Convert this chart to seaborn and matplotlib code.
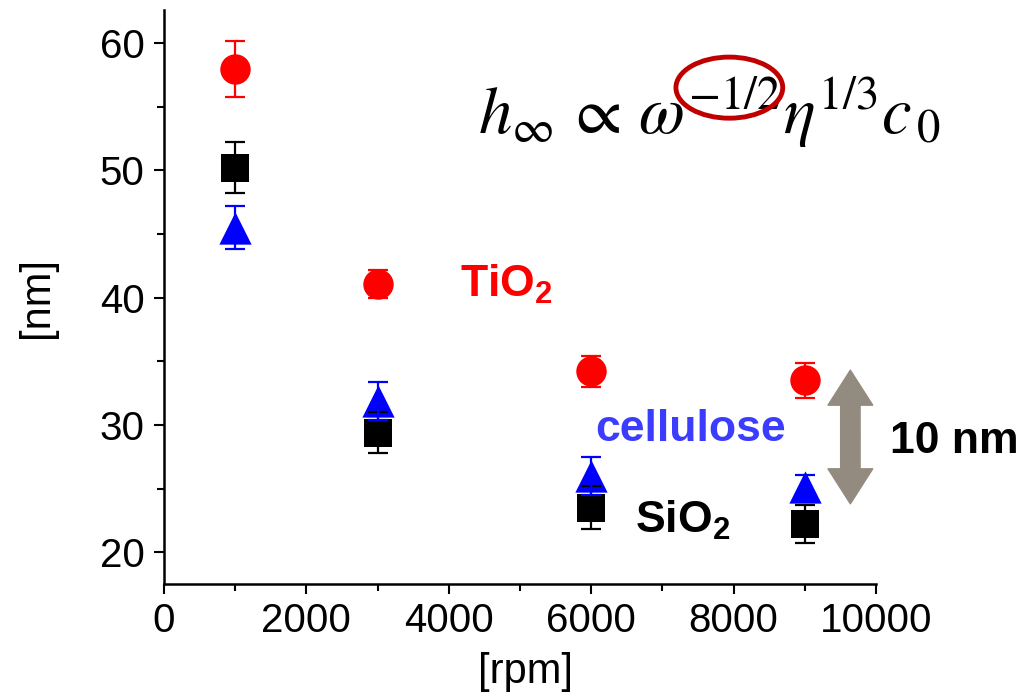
import numpy as np
import pandas as pd
import matplotlib
matplotlib.use("Agg")
import matplotlib.pyplot as plt
import seaborn as sns
from matplotlib.patches import Ellipse, FancyArrowPatch
from matplotlib.ticker import MultipleLocator

# ── Data ───────────────────────────────────────
rpm = [1000, 3000, 6000, 9000]

tio2      = [58.0, 41.1, 34.2, 33.5]
tio2_err  = [2.2, 1.1, 1.2, 1.4]

sio2      = [50.2, 29.4, 23.5, 22.2]
sio2_err  = [2.0, 1.6, 1.7, 1.5]

cell      = [45.5, 31.9, 26.0, 25.1]
cell_err  = [1.7, 1.5, 1.5, 1.0]

series = ["TiO2", "SiO2", "cellulose"]
colors = {"TiO2": "#ff0000", "SiO2": "#000000", "cellulose": "#0000ff"}
markers = {"TiO2": "o", "SiO2": "s", "cellulose": "^"}
sizes = {"TiO2": 480, "SiO2": 400, "cellulose": 540}

df = pd.concat([
    pd.DataFrame({"rpm": rpm, "h": tio2, "err": tio2_err, "film": "TiO2"}),
    pd.DataFrame({"rpm": rpm, "h": sio2, "err": sio2_err, "film": "SiO2"}),
    pd.DataFrame({"rpm": rpm, "h": cell, "err": cell_err, "film": "cellulose"}),
])

sns.set_theme(style="ticks")
plt.rcParams["font.family"] = ["Liberation Sans", "DejaVu Sans"]
plt.rcParams["mathtext.fontset"] = "custom"
plt.rcParams["mathtext.rm"] = "Liberation Sans"
plt.rcParams["mathtext.bf"] = "Liberation Sans:bold"
plt.rcParams["text.color"] = "black"
plt.rcParams["axes.labelcolor"] = "black"
plt.rcParams["xtick.color"] = "black"
plt.rcParams["ytick.color"] = "black"

fig = plt.figure(figsize=(10.21, 6.96), dpi=100)
ax = fig.add_axes([164 / 1021, 112 / 696, 712 / 1021, 574 / 696])

# ── Markers ────────────────────────────────────
for name in series:
    sub = df[df["film"] == name]
    sns.scatterplot(data=sub, x="rpm", y="h", ax=ax, color=colors[name],
                    marker=markers[name], s=sizes[name], linewidth=0,
                    legend=False, zorder=3)

# error bars on top of markers, as in the original
for name in series:
    sub = df[df["film"] == name]
    ax.errorbar(sub["rpm"], sub["h"], yerr=sub["err"], fmt="none",
                ecolor=colors[name], elinewidth=1.6, capsize=7.5,
                capthick=1.6, zorder=4)

# ── Axes ───────────────────────────────────────
ax.set_xlim(0, 10000)
ax.set_ylim(17.5, 62.6)
ax.xaxis.set_major_locator(MultipleLocator(2000))
ax.xaxis.set_minor_locator(MultipleLocator(1000))
ax.yaxis.set_major_locator(MultipleLocator(10))
ax.yaxis.set_minor_locator(MultipleLocator(5))
ax.tick_params(axis="both", which="major", labelsize=29, length=7,
               width=1.5, direction="out")
ax.tick_params(axis="y", which="major", pad=7)
ax.tick_params(axis="x", which="major", pad=6)
ax.tick_params(axis="both", which="minor", length=5, width=1.5,
               direction="out")
for side in ["left", "bottom"]:
    ax.spines[side].set_linewidth(1.8)
    ax.spines[side].set_color("black")
sns.despine(ax=ax)
ax.set_xlabel("[rpm]", fontsize=30)
ax.set_ylabel("[nm]", fontsize=30)
ax.xaxis.set_label_coords(0.508, -0.118)
ax.yaxis.set_label_coords(-0.15, 0.5)

# ── Annotations ────────────────────────────────
ax.text(4160, 40.1, r"TiO$_\mathbf{2}$", color="#ff0000", fontsize=32,
        fontweight="bold", ha="left", va="baseline")
ax.text(7390, 28.7, "cellulose", color="#3c3cff", fontsize=32,
        fontweight="bold", ha="center", va="baseline")
ax.text(6615, 21.5, r"SiO$_\mathbf{2}$", color="black", fontsize=32,
        fontweight="bold", ha="left", va="baseline")
ax.text(10200, 27.8, "10 nm", color="black", fontsize=32,
        fontweight="bold", ha="left", va="baseline", clip_on=False)

formula = r"$h_{\infty}\,\propto\,\omega^{-1/2}\eta^{1/3}c_{\,0}$"
ax.text(4410, 52.9, formula, fontsize=48, ha="left", va="baseline",
        math_fontfamily="stix")
ax.add_patch(Ellipse((7940, 56.5), 1500, 4.8, fill=False,
                     edgecolor="#c00000", linewidth=3.5, zorder=5))

# gray double arrow marking 10 nm
arrow_kw = dict(arrowstyle="simple,head_length=1.8,head_width=2.3,tail_width=1.0",
                color="#948b80", mutation_scale=14, shrinkA=0, shrinkB=0,
                zorder=2)
ax.add_patch(FancyArrowPatch((9640, 29.0), (9640, 34.3), **arrow_kw))
ax.add_patch(FancyArrowPatch((9640, 29.0), (9640, 23.8), **arrow_kw))

fig.savefig("out.png", dpi=100)
